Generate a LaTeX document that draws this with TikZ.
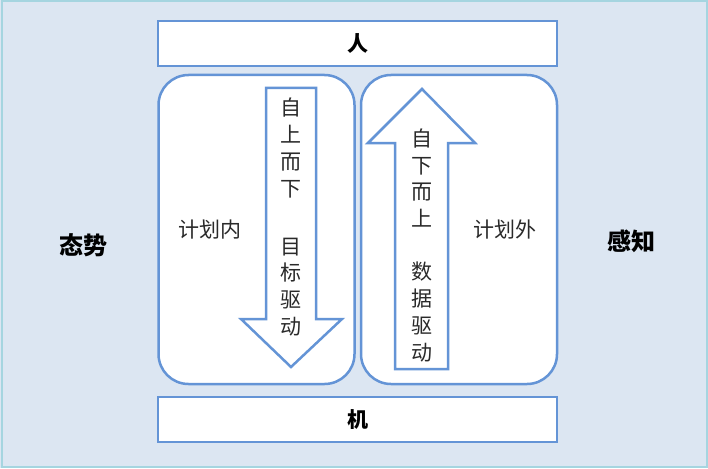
\documentclass[tikz,border=0pt]{standalone}
\usepackage{fontspec}
\newfontfamily\cjk{Noto Sans CJK SC}
\usepackage{tikz}
\definecolor{bgblue}{HTML}{DCE6F2}
\definecolor{framecyan}{HTML}{A5D5E0}
\definecolor{edgeblue}{HTML}{6494D6}
\definecolor{txtgray}{HTML}{2A2A2A}

\begin{document}
\begin{tikzpicture}[x=1pt,y=-1pt]
                \tikzstyle{bar}=[draw=edgeblue,line width=2.5pt,fill=white,inner sep=0pt,minimum width=399pt,minimum height=45pt,font=\cjk\bfseries\fontsize{21}{24}\selectfont]
                \tikzstyle{panel}=[draw=edgeblue,line width=2.5pt,fill=white,rounded corners=30pt,inner sep=0pt,minimum width=196pt,minimum height=309pt]
                \tikzstyle{side}=[font=\cjk\bfseries\fontsize{24}{28}\selectfont]
                \tikzstyle{plain}=[text=txtgray,font=\cjk\fontsize{21}{24}\selectfont]
                \tikzstyle{vlabel}=[text=txtgray,align=center,inner sep=0pt,font=\cjk\fontsize{21}{26.7}\selectfont]
                \tikzstyle{bigarrow}=[draw=edgeblue,line width=2.5pt,fill=white,line join=miter]
                \newcommand\vlabel[3]{\node[vlabel] (#1) at (#2) {#3};}
                % background and frame
                \fill[bgblue] (0,0) rectangle (708,468);
                \draw[framecyan,line width=2pt] (1.5,1.5) rectangle (706.5,466.5);
                % man and machine
                \node[bar] (ren) at (357.5,43.5) {人};
                \node[bar] (ji) at (357.5,419.5) {机};
                % the two panels
                \node[panel] (inplan) at (256.5,229.5) {};
                \node[panel] (outplan) at (459,229.5) {};
                \node[plain] (innertext) at (210,230) {计划内};
                \node[plain] (outertext) at (505,230) {计划外};
                % big arrows
                \draw[bigarrow] (266,88) -- (316,88) -- (316,319) -- (342,319) -- (291,367) -- (241,319) -- (266,319) -- cycle;
                \draw[bigarrow] (395,369) -- (395,143) -- (368,143) -- (422,89) -- (475,143) -- (448,143) -- (448,369) -- cycle;
                \vlabel{topdown}{291,148}{自\\上\\而\\下};
                \vlabel{goal}{291,287}{目\\标\\驱\\动};
                \vlabel{bottomup}{422,178}{自\\下\\而\\上};
                \vlabel{data}{422,312}{数\\据\\驱\\动};
                % sides
                \node[side] (taishi) at (83,245) {态势};
                \node[side] (ganzhi) at (631,241) {感知};
            \end{tikzpicture}
\end{document}
